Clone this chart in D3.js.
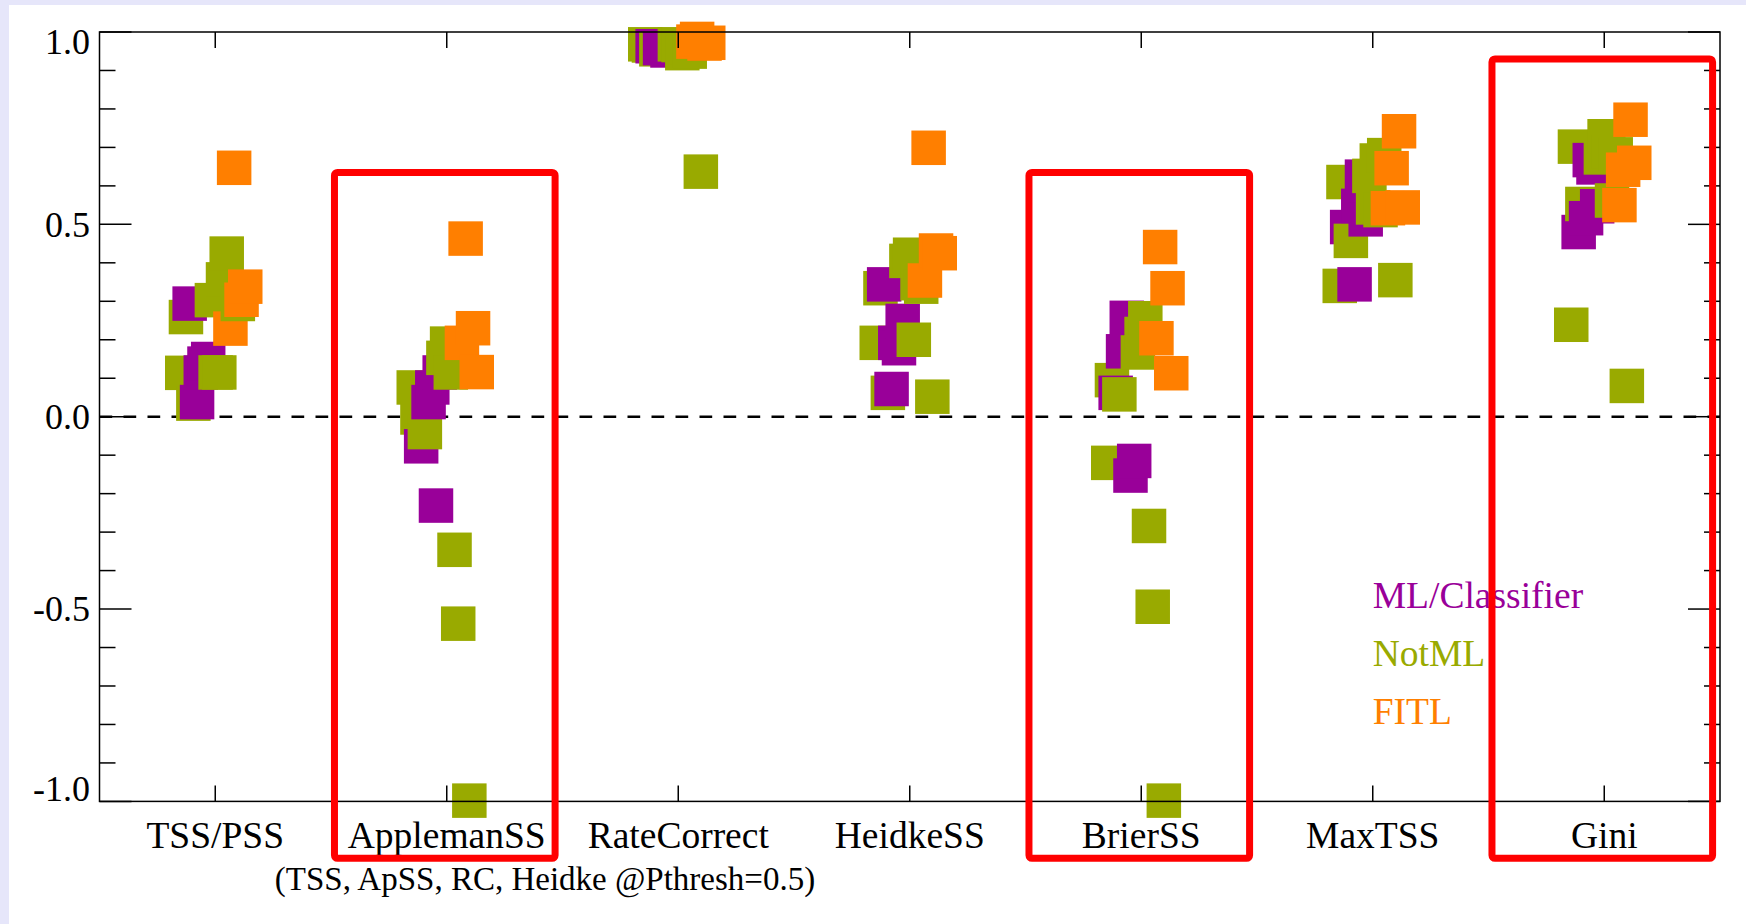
<!DOCTYPE html>
<html>
<head>
<meta charset="utf-8">
<script src="https://cdn.jsdelivr.net/npm/d3@7"></script>
<style>
  html, body { margin: 0; padding: 0; background: #e6e6fa; }
  svg { display: block; }
  text { font-family: "Liberation Serif", "Times New Roman", serif; }
</style>
</head>
<body>
<div id="chart"></div>
<script>
// categories on the x axis
var categories = ["TSS/PSS", "ApplemanSS", "RateCorrect", "HeidkeSS", "BrierSS", "MaxTSS", "Gini"];

// method groups (legend order)
var groups = ["ML/Classifier", "NotML", "FITL"];
var groupColors = ["#990099", "#99aa00", "#ff7f00"];

// group of each method, in plotting order (index into groups)
var methodGroup = [1, 1, 0, 1, 0, 0, 0, 0, 1, 1, 1, 1, 1, 2, 2, 1, 2, 2];

// skill score of each method for each category
var scores = [
    [0.114, 0.076, 0.968, 0.192, -0.120, 0.340, 0.239],
    [0.259, -0.002, 0.965, 0.334, 0.095, 0.610, 0.702],
    [0.294, -0.077, 0.963, 0.344, 0.062, 0.493, 0.480],
    [0.034, -0.040, 0.955, 0.062, 0.058, 0.457, 0.553],
    [0.038, 0.038, 0.958, 0.072, 0.170, 0.344, 0.516],
    [0.115, 0.076, 0.960, 0.192, 0.257, 0.548, 0.667],
    [0.138, -0.231, 0.952, 0.178, -0.153, 0.624, 0.648],
    [0.150, 0.115, 0.960, 0.249, -0.115, 0.513, 0.547],
    [0.303, 0.153, 0.968, 0.405, 0.167, 0.626, 0.674],
    [0.115, 0.190, 0.966, 0.421, 0.215, 0.544, 0.729],
    [0.115, 0.115, 0.945, 0.200, 0.256, 0.666, 0.690],
    [0.357, -0.346, 0.960, 0.347, -0.284, 0.537, 0.562],
    [0.424, -0.538, 0.949, 0.338, -0.494, 0.680, 0.682],
    [0.229, 0.192, 0.975, 0.354, 0.204, 0.542, 0.550],
    [0.647, 0.463, 0.982, 0.699, 0.441, 0.646, 0.642],
    [0.293, -0.998, 0.637, 0.052, -0.998, 0.355, 0.080],
    [0.304, 0.230, 0.970, 0.432, 0.334, 0.742, 0.772],
    [0.338, 0.116, 0.972, 0.425, 0.113, 0.544, 0.660]
];

// y axis
var yMajor = [-1.0, -0.5, 0.0, 0.5, 1.0];
var yLabels = ["-1.0", "-0.5", "0.0", "0.5", "1.0"];
var yMinor = d3.range(-10, 11).map(function (d) { return d / 10; });

// highlighted categories (red boxes), top edge in score units
var boxCats = ["ApplemanSS", "BrierSS", "Gini"];
var boxTops = [0.635, 0.635, 0.93];
var boxBottom = -1.148;

var subtitle = "(TSS, ApSS, RC, Heidke @Pthresh=0.5)";

var W = 1746, H = 924;
var plot = {left: 99.5, right: 1720, top: 32, bottom: 801.4};

var svg = d3.select("#chart").append("svg")
    .attr("width", W)
    .attr("height", H);

svg.append("rect")
    .attr("x", 9).attr("y", 5)
    .attr("width", W - 9).attr("height", H - 5)
    .attr("fill", "#fff");

var x = d3.scaleBand()
    .domain(categories)
    .range([plot.left, plot.right]);
var bw = x.bandwidth();
function cx(c) { return x(c) + bw / 2; }

var y = d3.scaleLinear()
    .domain([-1, 1])
    .range([plot.bottom, plot.top]);

// horizontal spread of methods inside a category
var jitter = d3.scalePoint()
    .domain(d3.range(methodGroup.length))
    .range([-33, 30]);

var sq = 34.5;

// zero line
svg.append("line")
    .attr("x1", plot.left).attr("x2", plot.right)
    .attr("y1", y(0)).attr("y2", y(0))
    .attr("stroke", "#000")
    .attr("stroke-width", 2.6)
    .attr("stroke-dasharray", "12.7,11.3");

// squares, one method at a time
var points = [];
scores.forEach(function (row, m) {
    row.forEach(function (v, c) {
        points.push({m: m, cat: categories[c], v: v, g: methodGroup[m]});
    });
});

svg.append("g").attr("class", "points")
    .selectAll("rect")
    .data(points)
    .enter().append("rect")
    .attr("x", function (d) { return cx(d.cat) + jitter(d.m) - sq / 2; })
    .attr("y", function (d) { return y(d.v) - sq / 2; })
    .attr("width", sq)
    .attr("height", sq)
    .attr("fill", function (d) { return groupColors[d.g]; });

// frame
var axes = svg.append("g")
    .attr("stroke", "#000")
    .attr("stroke-width", 1.5)
    .attr("fill", "none");

axes.append("rect")
    .attr("x", plot.left).attr("y", plot.top)
    .attr("width", plot.right - plot.left)
    .attr("height", plot.bottom - plot.top);

// y ticks, left and right
yMinor.forEach(function (v) {
    var len = yMajor.indexOf(v) >= 0 ? 32 : 16;
    axes.append("line")
        .attr("x1", plot.left).attr("x2", plot.left + len)
        .attr("y1", y(v)).attr("y2", y(v));
    axes.append("line")
        .attr("x1", plot.right).attr("x2", plot.right - len)
        .attr("y1", y(v)).attr("y2", y(v));
});

// x ticks, bottom and top
categories.forEach(function (c) {
    axes.append("line")
        .attr("x1", cx(c)).attr("x2", cx(c))
        .attr("y1", plot.bottom).attr("y2", plot.bottom - 16);
    axes.append("line")
        .attr("x1", cx(c)).attr("x2", cx(c))
        .attr("y1", plot.top).attr("y2", plot.top + 16);
});

// y labels (plain hyphen for negatives)
svg.append("g")
    .selectAll("text")
    .data(yMajor)
    .enter().append("text")
    .attr("x", 90)
    .attr("y", function (v) {
        var shift = v === 1 ? 22 : (v === -1 ? 0 : 12.3);
        return y(v) + shift;
    })
    .attr("text-anchor", "end")
    .attr("font-size", 36)
    .attr("fill", "#000")
    .text(function (v, i) { return yLabels[i]; });

// x labels
svg.append("g")
    .selectAll("text")
    .data(categories)
    .enter().append("text")
    .attr("x", function (c) { return cx(c); })
    .attr("y", 848)
    .attr("text-anchor", "middle")
    .attr("font-size", 37.5)
    .attr("fill", "#000")
    .text(function (c) { return c; });

svg.append("text")
    .attr("x", 545)
    .attr("y", 890)
    .attr("text-anchor", "middle")
    .attr("font-size", 33)
    .attr("fill", "#000")
    .text(subtitle);

// legend
svg.append("g")
    .selectAll("text")
    .data(groups)
    .enter().append("text")
    .attr("x", cx("MaxTSS"))
    .attr("y", function (d, i) { return 608 + i * 58; })
    .attr("font-size", 37.5)
    .attr("fill", function (d, i) { return groupColors[i]; })
    .text(function (d) { return d; });

// red boxes
svg.append("g")
    .selectAll("rect")
    .data(boxCats)
    .enter().append("rect")
    .attr("x", function (c) { return cx(c) - 0.485 * bw; })
    .attr("y", function (c, i) { return y(boxTops[i]); })
    .attr("width", 0.953 * bw)
    .attr("height", function (c, i) { return y(boxBottom) - y(boxTops[i]); })
    .attr("rx", 3)
    .attr("fill", "none")
    .attr("stroke", "#ff0000")
    .attr("stroke-width", 7);
</script>
</body>
</html>
